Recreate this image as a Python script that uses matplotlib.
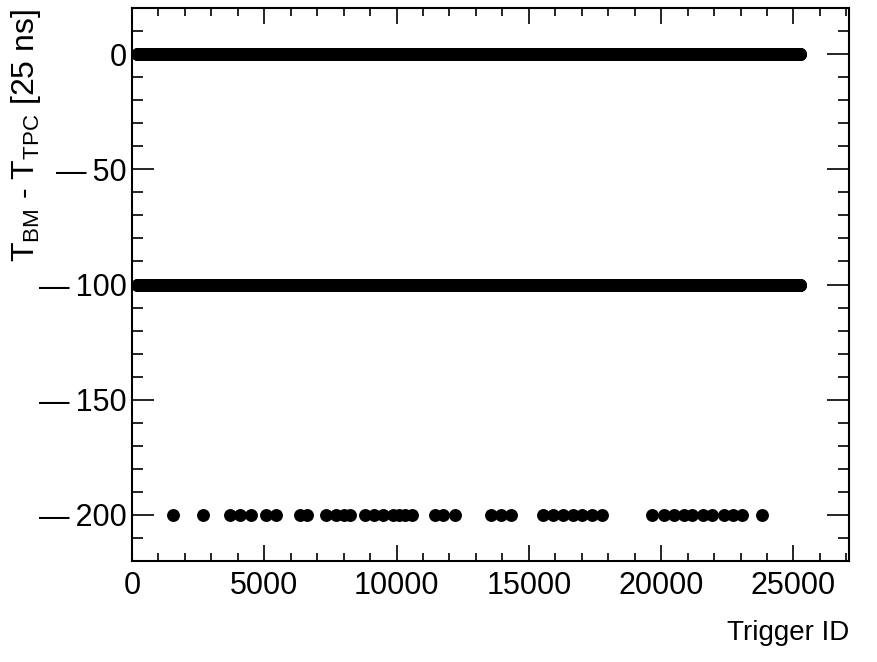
import numpy as np
import matplotlib
matplotlib.use("Agg")
import matplotlib.pyplot as plt
from matplotlib.ticker import MultipleLocator

plt.rcParams['font.family'] = ['Liberation Sans', 'DejaVu Sans']
plt.rcParams['mathtext.fontset'] = 'custom'
plt.rcParams['mathtext.rm'] = 'Liberation Sans'
plt.rcParams['mathtext.it'] = 'Liberation Sans:italic'

# trigger ID range covered by the two dense bands
first_id = 200
last_id = 25250
band_values = [0, -100]

# triggers that show up at -200
late_ids = [1550, 2700, 3700, 4100, 4500, 5050, 5450, 6350, 6600,
            7350, 7700, 8000, 8250, 8800, 9150, 9500, 9850, 10100,
            10300, 10600, 11450, 11750, 12200, 13580, 13960, 14340,
            15540, 15920, 16300, 16680, 17000, 17375, 17755, 19650,
            20100, 20475, 20855, 21170, 21580, 21930, 22380, 22720,
            23065, 23820]
late_value = -200

ids = np.arange(first_id, last_id + 1, 10)

fig = plt.figure(figsize=(8.78, 6.62), dpi=100)
ax = fig.add_axes([132 / 878, 1 - 561 / 662, (849 - 132) / 878, (561 - 8) / 662])

for v in band_values:
    ax.plot(ids, np.full(len(ids), v), 'o', color='black', markersize=9.3,
            markeredgewidth=0, clip_on=False)
ax.plot(late_ids, [late_value] * len(late_ids), 'o', color='black',
        markersize=9.3, markeredgewidth=0, clip_on=False)

ax.set_xlim(0, 27100)
ax.set_ylim(-220, 20)
ax.xaxis.set_major_locator(MultipleLocator(5000))
ax.xaxis.set_minor_locator(MultipleLocator(1000))
ax.yaxis.set_major_locator(MultipleLocator(50))
ax.yaxis.set_minor_locator(MultipleLocator(10))

# ROOT draws a wide minus sign on the y labels
ax.yaxis.set_major_formatter(
    lambda v, pos: f"\u2014\u2009{abs(int(v))}" if v < 0 else f"{int(v)}")

for s in ax.spines.values():
    s.set_linewidth(1.5)

ax.tick_params(axis='both', which='both', direction='in', top=True, right=True,
               labelsize=22, width=1.2)
ax.tick_params(axis='x', which='major', length=11.5, pad=7)
ax.tick_params(axis='x', which='minor', length=5.8)
ax.tick_params(axis='y', which='major', length=15.8, pad=4)
ax.tick_params(axis='y', which='minor', length=7.9)

fig.text(849 / 878, 1 - 640 / 662, "Trigger ID", ha='right', va='baseline',
         fontsize=20)
fig.text(26 / 878, 1 - 9 / 662, r"T$_{\rm BM}$ - T$_{\rm TPC}$ [25 ns]",
         rotation=90, ha='center', va='top', fontsize=23)

fig.savefig("out.png", dpi=100)
